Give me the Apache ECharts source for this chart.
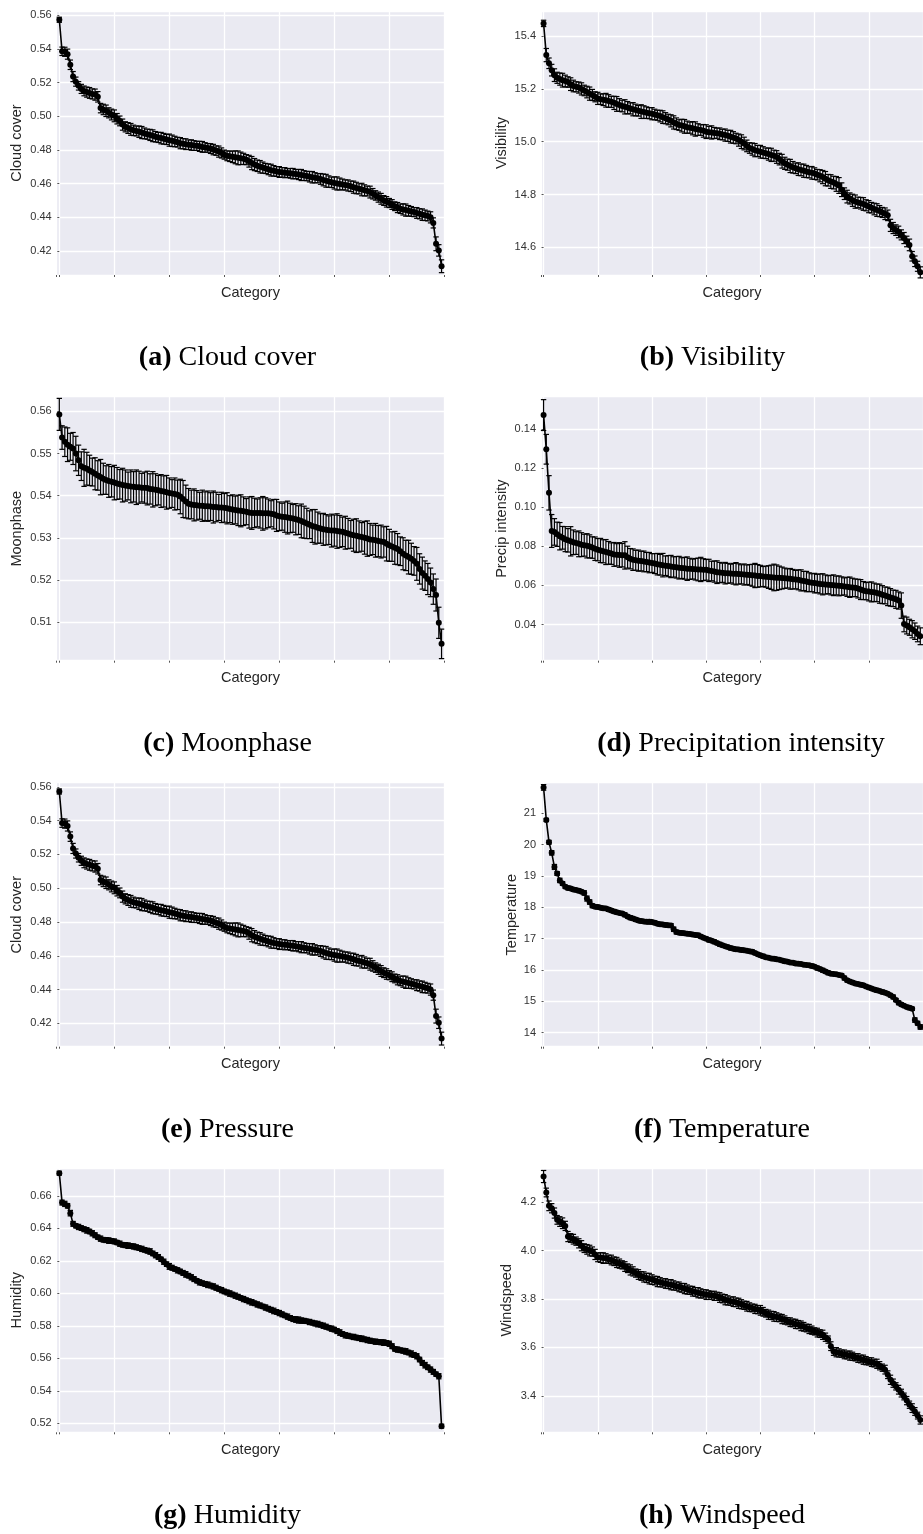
<!DOCTYPE html>
<html>
<head>
<meta charset="utf-8">
<script src="https://cdn.jsdelivr.net/npm/echarts@6/dist/echarts.min.js"></script>
<style>
  html, body { margin: 0; padding: 0; background: #fff; }
  #chart { width: 923px; height: 1534px; }
</style>
</head>
<body>
<div id="chart"></div>
<script>
// 每个面板：均值（已排序）+ 误差半宽，140 个类别
const cloudCover = [
  .5572, .5385, .5382, .5368, .5305, .5235, .5205, .5180, .5162, .5150, .5143, .5138, .5132, .5128, .5115, .5048, .5040, .5032, .5020, .5010,
  .5002, .4985, .4972, .4950, .4937, .4930, .4922, .4916, .4912, .4908, .4903, .4898, .4893, .4889, .4884, .4878, .4874, .4870, .4866, .4862,
  .4858, .4854, .4850, .4846, .4840, .4837, .4834, .4831, .4829, .4826, .4824, .4821, .4818, .4815, .4812, .4808, .4802, .4796, .4790, .4782,
  .4772, .4765, .4762, .4759, .4756, .4753, .4750, .4747, .4742, .4733, .4722, .4713, .4706, .4700, .4695, .4690, .4685, .4680, .4676, .4672,
  .4669, .4667, .4665, .4663, .4661, .4659, .4657, .4654, .4651, .4648, .4645, .4641, .4638, .4635, .4632, .4628, .4622, .4617, .4612, .4608,
  .4604, .4601, .4598, .4595, .4592, .4589, .4584, .4579, .4574, .4569, .4565, .4560, .4556, .4550, .4540, .4530, .4520, .4510, .4500, .4492,
  .4485, .4476, .4466, .4458, .4451, .4447, .4443, .4439, .4435, .4431, .4426, .4421, .4416, .4412, .4408, .4400, .4367, .4243, .4204, .4110
]
const cloudCoverErr = [
  .0015, .0025, .0027, .0030, .0028, .0030, .0027, .0025, .0027, .0029, .0030, .0032, .0030, .0033, .0031, .0028, .0031, .0034, .0030, .0032,
  .0035, .0031, .0029, .0033, .0030, .0032, .0035, .0031, .0029, .0034, .0036, .0032, .0030, .0033, .0035, .0031, .0030, .0034, .0032, .0030,
  .0036, .0034, .0031, .0029, .0033, .0030, .0032, .0028, .0031, .0029, .0027, .0030, .0032, .0028, .0026, .0029, .0031, .0028, .0033, .0030,
  .0027, .0029, .0031, .0034, .0038, .0041, .0037, .0033, .0030, .0035, .0039, .0036, .0034, .0037, .0033, .0030, .0032, .0035, .0031, .0029,
  .0032, .0028, .0030, .0026, .0029, .0031, .0027, .0030, .0033, .0029, .0028, .0031, .0034, .0030, .0027, .0032, .0035, .0038, .0034, .0031,
  .0036, .0039, .0035, .0032, .0030, .0033, .0031, .0036, .0034, .0030, .0037, .0033, .0029, .0035, .0031, .0028, .0030, .0032, .0029, .0031,
  .0027, .0029, .0026, .0030, .0028, .0033, .0036, .0031, .0029, .0027, .0032, .0030, .0034, .0031, .0029, .0033, .0030, .0041, .0034, .0038
]
const visibility = [
  15.448, 15.328, 15.297, 15.271, 15.252, 15.242, 15.237, 15.233, 15.230, 15.226, 15.218, 15.211, 15.208, 15.205, 15.200, 15.194, 15.188, 15.182, 15.177, 15.170,
  15.164, 15.161, 15.159, 15.157, 15.154, 15.151, 15.147, 15.143, 15.139, 15.135, 15.132, 15.129, 15.126, 15.123, 15.120, 15.117, 15.114, 15.112, 15.110, 15.108,
  15.106, 15.103, 15.100, 15.097, 15.093, 15.089, 15.084, 15.079, 15.073, 15.068, 15.063, 15.061, 15.058, 15.055, 15.053, 15.051, 15.048, 15.046, 15.044, 15.041,
  15.038, 15.036, 15.035, 15.033, 15.032, 15.030, 15.027, 15.025, 15.022, 15.019, 15.016, 15.012, 15.006, 15.000, 14.993, 14.984, 14.976, 14.972, 14.968, 14.965,
  14.962, 14.959, 14.956, 14.953, 14.950, 14.947, 14.942, 14.934, 14.926, 14.918, 14.913, 14.908, 14.903, 14.899, 14.896, 14.893, 14.890, 14.887, 14.884, 14.882,
  14.879, 14.875, 14.871, 14.866, 14.860, 14.854, 14.849, 14.845, 14.840, 14.834, 14.818, 14.803, 14.792, 14.785, 14.778, 14.773, 14.770, 14.767, 14.764, 14.759,
  14.754, 14.750, 14.745, 14.741, 14.737, 14.732, 14.727, 14.721, 14.683, 14.673, 14.665, 14.658, 14.647, 14.635, 14.622, 14.609, 14.566, 14.547, 14.528, 14.505
]
const visibilityErr = [
  .012, .025, .020, .022, .024, .021, .023, .026, .022, .020, .024, .022, .019, .021, .023, .020, .022, .025, .021, .019,
  .023, .020, .022, .026, .024, .021, .025, .028, .024, .022, .027, .023, .021, .025, .022, .020, .026, .024, .022, .021,
  .023, .020, .019, .022, .024, .021, .020, .023, .025, .022, .020, .024, .026, .023, .021, .025, .027, .022, .020, .024,
  .026, .022, .025, .021, .019, .022, .020, .023, .021, .024, .022, .020, .023, .026, .024, .022, .020, .023, .025, .021,
  .024, .022, .020, .023, .025, .021, .024, .022, .026, .023, .021, .025, .022, .020, .024, .022, .025, .023, .021, .024,
  .022, .020, .023, .025, .027, .022, .026, .024, .028, .030, .026, .022, .024, .021, .023, .025, .020, .022, .024, .021,
  .023, .020, .022, .024, .021, .019, .022, .020, .023, .021, .020, .022, .019, .021, .020, .022, .018, .020, .019, .021
]
const moonphase = [
  .5593, .5538, .5528, .5521, .5516, .5512, .5500, .5484, .5470, .5466, .5464, .5460, .5456, .5452, .5448, .5444, .5440, .5437, .5435, .5433,
  .5431, .5429, .5427, .5425, .5424, .5423, .5422, .5421, .5420, .5420, .5419, .5419, .5418, .5416, .5415, .5414, .5413, .5411, .5410, .5408,
  .5406, .5405, .5404, .5402, .5398, .5392, .5386, .5381, .5379, .5378, .5377, .5376, .5376, .5375, .5375, .5374, .5373, .5373, .5372, .5372,
  .5371, .5370, .5368, .5367, .5366, .5365, .5364, .5363, .5362, .5360, .5359, .5359, .5359, .5359, .5358, .5358, .5358, .5357, .5356, .5353,
  .5351, .5350, .5349, .5348, .5347, .5346, .5344, .5342, .5340, .5337, .5334, .5331, .5328, .5326, .5324, .5322, .5320, .5319, .5318, .5317,
  .5317, .5316, .5315, .5314, .5312, .5310, .5308, .5306, .5305, .5303, .5302, .5300, .5298, .5296, .5295, .5294, .5292, .5291, .5290, .5286,
  .5282, .5279, .5276, .5273, .5268, .5262, .5258, .5254, .5250, .5245, .5238, .5226, .5216, .5210, .5202, .5194, .5178, .5164, .5098, .5048
]
const moonphaseErr = [
  .0038, .0028, .0035, .0040, .0032, .0038, .0041, .0036, .0034, .0044, .0039, .0036, .0033, .0038, .0035, .0042, .0037, .0034, .0039, .0036,
  .0041, .0038, .0035, .0040, .0037, .0033, .0039, .0036, .0041, .0038, .0034, .0037, .0040, .0036, .0042, .0038, .0035, .0039, .0037, .0040,
  .0036, .0033, .0038, .0035, .0041, .0044, .0039, .0036, .0034, .0038, .0035, .0032, .0037, .0034, .0036, .0033, .0038, .0035, .0031, .0036,
  .0034, .0037, .0032, .0035, .0033, .0036, .0038, .0034, .0031, .0037, .0039, .0035, .0033, .0036, .0040, .0037, .0034, .0031, .0035, .0038,
  .0034, .0032, .0036, .0039, .0035, .0033, .0037, .0034, .0040, .0038, .0036, .0033, .0039, .0041, .0037, .0035, .0038, .0036, .0034, .0039,
  .0037, .0041, .0038, .0035, .0039, .0036, .0033, .0038, .0040, .0037, .0034, .0039, .0042, .0038, .0035, .0040, .0037, .0039, .0036, .0041,
  .0038, .0035, .0039, .0037, .0034, .0038, .0036, .0040, .0037, .0034, .0039, .0036, .0038, .0035, .0037, .0034, .0036, .0038, .0037, .0035
]
const precipIntensity = [
  .1472, .1297, .1074, .0879, .0874, .0862, .0852, .0844, .0837, .0831, .0826, .0821, .0817, .0813, .0809, .0806, .0803, .0800, .0794, .0788,
  .0783, .0779, .0775, .0771, .0767, .0763, .0759, .0757, .0756, .0755, .0754, .0745, .0737, .0732, .0729, .0727, .0725, .0723, .0720, .0717,
  .0715, .0712, .0709, .0706, .0704, .0701, .0699, .0697, .0695, .0693, .0691, .0689, .0688, .0686, .0685, .0684, .0683, .0682, .0682, .0681,
  .0680, .0677, .0674, .0671, .0668, .0666, .0665, .0663, .0662, .0661, .0660, .0660, .0659, .0657, .0656, .0655, .0654, .0652, .0651, .0649,
  .0648, .0646, .0645, .0643, .0642, .0641, .0640, .0639, .0638, .0637, .0636, .0634, .0632, .0630, .0629, .0626, .0623, .0620, .0617, .0614,
  .0612, .0610, .0608, .0606, .0605, .0604, .0602, .0601, .0600, .0598, .0597, .0595, .0593, .0591, .0590, .0588, .0584, .0579, .0574, .0571,
  .0569, .0567, .0565, .0562, .0558, .0553, .0549, .0544, .0539, .0534, .0529, .0523, .0497, .0403, .0395, .0386, .0376, .0366, .0352, .0340
]
const precipIntensityErr = [
  .0079, .0076, .0088, .0084, .0068, .0062, .0070, .0058, .0064, .0060, .0075, .0063, .0058, .0066, .0061, .0056, .0062, .0059, .0055, .0060,
  .0057, .0062, .0059, .0064, .0058, .0055, .0061, .0057, .0063, .0060, .0070, .0056, .0052, .0055, .0051, .0054, .0050, .0053, .0049, .0052,
  .0048, .0051, .0055, .0053, .0060, .0050, .0054, .0057, .0052, .0055, .0058, .0053, .0056, .0060, .0054, .0051, .0055, .0058, .0062, .0056,
  .0053, .0057, .0050, .0054, .0058, .0052, .0049, .0055, .0051, .0048, .0053, .0057, .0052, .0049, .0054, .0050, .0053, .0056, .0062, .0058,
  .0055, .0051, .0054, .0058, .0062, .0068, .0065, .0060, .0056, .0052, .0049, .0053, .0050, .0047, .0051, .0054, .0049, .0052, .0048, .0046,
  .0050, .0047, .0051, .0054, .0049, .0046, .0050, .0053, .0048, .0051, .0047, .0044, .0049, .0052, .0047, .0045, .0048, .0051, .0046, .0044,
  .0048, .0051, .0047, .0045, .0049, .0046, .0043, .0047, .0045, .0042, .0046, .0044, .0065, .0040, .0043, .0041, .0044, .0042, .0040, .0043
]
const temperature = [
  21.83, 20.79, 20.08, 19.74, 19.29, 19.08, 18.86, 18.76, 18.66, 18.62, 18.60, 18.57, 18.55, 18.53, 18.50, 18.46, 18.28, 18.17, 18.05, 18.02,
  18.01, 17.99, 17.97, 17.96, 17.93, 17.90, 17.87, 17.84, 17.82, 17.80, 17.76, 17.71, 17.67, 17.64, 17.61, 17.58, 17.56, 17.55, 17.54, 17.54,
  17.53, 17.51, 17.48, 17.46, 17.45, 17.44, 17.43, 17.42, 17.30, 17.21, 17.19, 17.18, 17.17, 17.16, 17.15, 17.13, 17.12, 17.11, 17.07, 17.03,
  17.00, 16.96, 16.93, 16.90, 16.86, 16.82, 16.79, 16.76, 16.73, 16.70, 16.68, 16.66, 16.65, 16.64, 16.63, 16.61, 16.60, 16.58, 16.54, 16.50,
  16.47, 16.44, 16.41, 16.39, 16.37, 16.36, 16.34, 16.33, 16.30, 16.28, 16.26, 16.24, 16.23, 16.21, 16.20, 16.19, 16.17, 16.16, 16.15, 16.13,
  16.10, 16.06, 16.03, 15.99, 15.95, 15.91, 15.88, 15.87, 15.86, 15.84, 15.82, 15.74, 15.67, 15.63, 15.60, 15.57, 15.55, 15.53, 15.51, 15.47,
  15.44, 15.41, 15.38, 15.35, 15.33, 15.30, 15.27, 15.24, 15.19, 15.14, 15.04, 14.95, 14.90, 14.86, 14.82, 14.79, 14.76, 14.40, 14.30, 14.18
]
const temperatureErr = [
  .09, .05, .06, .07, .08, .06, .07, .06, .05, .06, .05, .06, .05, .06, .05, .07, .08, .07, .06, .05,
  .06, .05, .06, .05, .06, .05, .06, .05, .04, .05, .06, .05, .06, .05, .06, .05, .06, .05, .06, .07,
  .05, .06, .05, .06, .05, .06, .05, .06, .07, .06, .05, .06, .05, .06, .05, .06, .05, .06, .05, .04,
  .05, .06, .05, .06, .05, .06, .05, .04, .05, .06, .05, .06, .05, .06, .05, .04, .05, .06, .05, .04,
  .05, .06, .05, .04, .05, .06, .05, .04, .05, .06, .05, .04, .05, .06, .05, .04, .05, .04, .05, .06,
  .05, .06, .05, .06, .05, .06, .05, .04, .05, .04, .05, .06, .05, .04, .05, .04, .05, .06, .05, .04,
  .05, .04, .05, .06, .05, .06, .05, .04, .05, .06, .05, .06, .05, .04, .05, .06, .05, .07, .06, .07
]
const humidity = [
  .6740, .6559, .6551, .6539, .6494, .6428, .6416, .6409, .6402, .6395, .6388, .6381, .6370, .6358, .6346, .6337, .6330, .6328, .6325, .6322,
  .6320, .6313, .6306, .6299, .6297, .6294, .6291, .6289, .6284, .6279, .6274, .6268, .6263, .6258, .6246, .6235, .6224, .6210, .6195, .6180,
  .6166, .6158, .6150, .6142, .6135, .6126, .6117, .6109, .6099, .6088, .6078, .6068, .6063, .6058, .6053, .6048, .6043, .6035, .6027, .6020,
  .6012, .6006, .5999, .5993, .5986, .5979, .5972, .5965, .5958, .5951, .5945, .5939, .5932, .5926, .5920, .5913, .5906, .5899, .5892, .5886,
  .5879, .5871, .5864, .5857, .5849, .5842, .5839, .5836, .5833, .5831, .5828, .5824, .5820, .5815, .5811, .5807, .5801, .5795, .5789, .5783,
  .5777, .5768, .5759, .5750, .5742, .5739, .5735, .5732, .5728, .5725, .5721, .5717, .5713, .5709, .5705, .5703, .5701, .5699, .5697, .5695,
  .5690, .5675, .5658, .5654, .5650, .5647, .5643, .5636, .5628, .5621, .5613, .5593, .5572, .5558, .5545, .5531, .5517, .5503, .5490, .5183
]
const humidityErr = [
  .0012, .0015, .0016, .0014, .0017, .0015, .0013, .0016, .0014, .0015, .0017, .0014, .0016, .0015, .0013, .0016, .0014, .0015, .0017, .0014,
  .0015, .0013, .0016, .0014, .0015, .0017, .0014, .0016, .0015, .0013, .0016, .0014, .0015, .0017, .0014, .0016, .0015, .0013, .0016, .0014,
  .0018, .0015, .0013, .0016, .0014, .0015, .0017, .0014, .0016, .0015, .0013, .0016, .0014, .0015, .0017, .0014, .0016, .0015, .0013, .0016,
  .0014, .0015, .0017, .0014, .0016, .0015, .0013, .0016, .0014, .0015, .0017, .0014, .0016, .0015, .0013, .0016, .0014, .0015, .0017, .0014,
  .0016, .0015, .0013, .0016, .0014, .0015, .0017, .0019, .0016, .0015, .0013, .0016, .0014, .0015, .0017, .0014, .0016, .0015, .0013, .0016,
  .0014, .0015, .0017, .0014, .0016, .0015, .0013, .0016, .0014, .0015, .0017, .0014, .0016, .0015, .0013, .0016, .0014, .0015, .0017, .0014,
  .0016, .0015, .0013, .0016, .0014, .0015, .0017, .0014, .0018, .0015, .0016, .0014, .0015, .0017, .0014, .0016, .0015, .0013, .0016, .0012
]
const windspeed = [
  4.306, 4.240, 4.185, 4.175, 4.155, 4.127, 4.120, 4.113, 4.102, 4.058, 4.052, 4.047, 4.039, 4.030, 4.020, 4.010, 4.005, 4.000, 3.996, 3.984,
  3.972, 3.971, 3.969, 3.968, 3.964, 3.961, 3.956, 3.951, 3.946, 3.941, 3.934, 3.927, 3.920, 3.914, 3.907, 3.901, 3.895, 3.891, 3.887, 3.884,
  3.880, 3.876, 3.872, 3.869, 3.866, 3.864, 3.861, 3.859, 3.856, 3.853, 3.850, 3.846, 3.843, 3.839, 3.836, 3.832, 3.829, 3.826, 3.823, 3.821,
  3.818, 3.816, 3.815, 3.813, 3.811, 3.806, 3.802, 3.797, 3.794, 3.791, 3.789, 3.786, 3.782, 3.778, 3.774, 3.770, 3.766, 3.763, 3.759, 3.756,
  3.753, 3.747, 3.741, 3.735, 3.732, 3.728, 3.725, 3.722, 3.717, 3.713, 3.708, 3.704, 3.701, 3.697, 3.694, 3.689, 3.685, 3.680, 3.676, 3.671,
  3.666, 3.661, 3.657, 3.652, 3.642, 3.632, 3.605, 3.583, 3.580, 3.577, 3.574, 3.571, 3.568, 3.566, 3.563, 3.559, 3.556, 3.552, 3.549, 3.545,
  3.542, 3.539, 3.535, 3.532, 3.524, 3.516, 3.508, 3.487, 3.466, 3.452, 3.439, 3.425, 3.411, 3.397, 3.380, 3.363, 3.349, 3.335, 3.318, 3.300
]
const windspeedErr = [
  .025, .018, .020, .019, .021, .018, .020, .022, .019, .021, .018, .020, .017, .019, .021, .018, .020, .022, .019, .021,
  .018, .020, .022, .019, .017, .020, .018, .021, .019, .017, .020, .018, .021, .019, .017, .020, .018, .021, .019, .022,
  .020, .018, .021, .019, .017, .020, .018, .021, .019, .017, .020, .018, .021, .019, .017, .020, .018, .021, .019, .017,
  .020, .018, .016, .019, .017, .020, .018, .021, .019, .017, .020, .018, .021, .019, .017, .020, .018, .016, .019, .017,
  .020, .018, .016, .019, .017, .020, .018, .016, .019, .017, .015, .018, .016, .019, .017, .020, .018, .016, .019, .017,
  .015, .018, .016, .019, .017, .015, .018, .016, .019, .017, .015, .018, .016, .019, .017, .015, .018, .016, .019, .017,
  .015, .018, .016, .019, .017, .015, .018, .016, .019, .017, .015, .018, .016, .014, .017, .015, .018, .016, .014, .017
]

// 面板（图 e 原图里用的就是云量数据）
const panels = [
  { tag: '(a)', caption: 'Cloud cover', yName: 'Cloud cover', values: cloudCover, errors: cloudCoverErr, min: 0.4058, max: 0.5624, step: 0.02, digits: 2, nameGap: 32, capX: 227.5 },
  { tag: '(b)', caption: 'Visibility', yName: 'Visibility', values: visibility, errors: visibilityErr, min: 14.495, max: 15.495, step: 0.2, digits: 1, nameGap: 32, capX: 712.5 },
  { tag: '(c)', caption: 'Moonphase', yName: 'Moonphase', values: moonphase, errors: moonphaseErr, min: 0.5008, max: 0.5635, step: 0.01, digits: 2, nameGap: 32, capX: 227.5 },
  { tag: '(d)', caption: 'Precipitation intensity', yName: 'Precip intensity', values: precipIntensity, errors: precipIntensityErr, min: 0.0215, max: 0.1566, step: 0.02, digits: 2, nameGap: 32, capX: 741 },
  { tag: '(e)', caption: 'Pressure', yName: 'Cloud cover', values: cloudCover, errors: cloudCoverErr, min: 0.4062, max: 0.5624, step: 0.02, digits: 2, nameGap: 32, capX: 227.5 },
  { tag: '(f)', caption: 'Temperature', yName: 'Temperature', values: temperature, errors: temperatureErr, min: 13.55, max: 21.98, step: 1, digits: 0, nameGap: 22, capX: 722 },
  { tag: '(g)', caption: 'Humidity', yName: 'Humidity', values: humidity, errors: humidityErr, min: 0.5145, max: 0.677, step: 0.02, digits: 2, nameGap: 32, capX: 227.5 },
  { tag: '(h)', caption: 'Windspeed', yName: 'Windspeed', values: windspeed, errors: windspeedErr, min: 3.249, max: 4.340, step: 0.2, digits: 1, nameGap: 27, capX: 722 }
]

const COL_LEFT = [56.7, 541]
const ROW_TOP = [11, 396.7, 782.7, 1168.3]
const CAPTION_Y = [358, 744, 1130, 1516]
const PLOT_W = 387.6
const PLOT_H = 264
const X_MIN = -0.95
const X_MAX = 140

const SANS = 'Liberation Sans, Arial, sans-serif'
const SERIF = 'Liberation Serif, Times New Roman, serif'

// 误差棒
function errorBar (params, api) {
  const x = api.value(0)
  const lo = api.coord([x, api.value(1)])
  const hi = api.coord([x, api.value(2)])
  const cap = 2.7
  const style = { stroke: '#000', lineWidth: 1.2, fill: null }
  return {
    type: 'group',
    children: [
      { type: 'line', shape: { x1: lo[0], y1: lo[1], x2: hi[0], y2: hi[1] }, style },
      { type: 'line', shape: { x1: hi[0] - cap, y1: hi[1], x2: hi[0] + cap, y2: hi[1] }, style },
      { type: 'line', shape: { x1: lo[0] - cap, y1: lo[1], x2: lo[0] + cap, y2: lo[1] }, style }
    ]
  }
}

const grid = []
const xAxis = []
const yAxis = []
const series = []
const graphic = []

panels.forEach((p, k) => {
  const col = k % 2
  const row = Math.floor(k / 2)
  grid.push({
    left: COL_LEFT[col],
    top: ROW_TOP[row],
    width: PLOT_W,
    height: PLOT_H,
    show: true,
    backgroundColor: '#EAEAF2',
    borderWidth: 0
  })
  xAxis.push({
    gridIndex: k,
    type: 'value',
    min: X_MIN,
    max: X_MAX,
    minInterval: 20,
    maxInterval: 20,
    name: 'Category',
    nameLocation: 'middle',
    nameGap: 10,
    nameTextStyle: { fontFamily: SANS, fontSize: 14.5, color: '#262626' },
    axisLine: { show: false },
    axisTick: { show: true, length: 2, lineStyle: { color: '#555' } },
    axisLabel: { show: false },
    splitLine: { show: true, lineStyle: { color: '#fff', width: 1.3 } }
  })
  yAxis.push({
    gridIndex: k,
    type: 'value',
    min: p.min,
    max: p.max,
    minInterval: p.step,
    maxInterval: p.step,
    name: p.yName,
    nameLocation: 'middle',
    nameGap: p.nameGap,
    nameTextStyle: { fontFamily: SANS, fontSize: 14.5, color: '#262626' },
    axisLine: { show: false },
    axisTick: { show: true, length: 2, lineStyle: { color: '#555' } },
    axisLabel: {
      fontFamily: SANS,
      fontSize: 11,
      color: '#333',
      margin: 5,
      showMinLabel: false,
      showMaxLabel: false,
      formatter: v => v.toFixed(p.digits)
    },
    splitLine: { show: true, lineStyle: { color: '#fff', width: 1.3 } }
  })
  series.push({
    type: 'custom',
    xAxisIndex: k,
    yAxisIndex: k,
    renderItem: errorBar,
    encode: { x: 0, y: [1, 2] },
    z: 3,
    silent: true,
    data: p.values.map((v, i) => [i, v - p.errors[i], v + p.errors[i]])
  })
  series.push({
    type: 'line',
    xAxisIndex: k,
    yAxisIndex: k,
    symbol: 'circle',
    symbolSize: 6,
    showAllSymbol: true,
    z: 4,
    itemStyle: { color: '#000' },
    lineStyle: { color: '#000', width: 1.6 },
    data: p.values.map((v, i) => [i, v])
  })
  graphic.push({
    type: 'text',
    x: p.capX,
    y: CAPTION_Y[row],
    silent: true,
    style: {
      text: '{b|' + p.tag + '} ' + p.caption,
      fontFamily: SERIF,
      fontSize: 28,
      fill: '#000',
      align: 'center',
      verticalAlign: 'middle',
      rich: { b: { fontFamily: SERIF, fontSize: 28, fontWeight: 'bold', fill: '#000' } }
    }
  })
})

const chart = echarts.init(document.getElementById('chart'))
chart.setOption({
  animation: false,
  backgroundColor: '#fff',
  grid,
  xAxis,
  yAxis,
  series,
  graphic
}, true)
</script>
</body>
</html>
